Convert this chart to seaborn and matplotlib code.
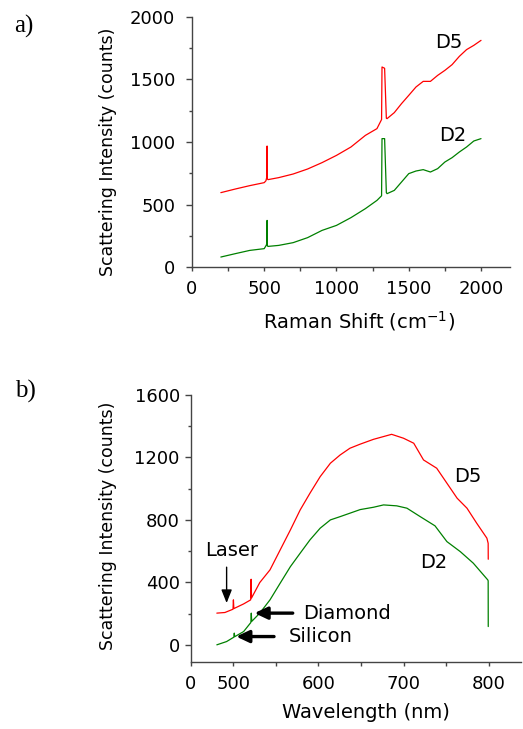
import matplotlib
matplotlib.use("Agg")
import matplotlib.pyplot as plt
from matplotlib.ticker import MultipleLocator, FixedLocator, FixedFormatter
import seaborn as sns
import pandas as pd

# ---------------- data (a) Raman spectra ----------------
raman_shift_d5 = [200, 300, 400, 500, 512, 518, 520, 522, 526, 600, 700, 800, 900, 1000,
                  1100, 1200, 1280, 1312, 1315, 1333, 1345, 1350, 1400, 1450, 1500, 1550,
                  1600, 1650, 1700, 1750, 1800, 1850, 1900, 1950, 2000]
raman_d5 = [595, 624, 651, 675, 690, 720, 968, 705, 699, 715, 744, 784, 835, 893,
            960, 1053, 1107, 1180, 1600, 1590, 1190, 1187, 1235, 1307, 1373, 1440,
            1485, 1485, 1533, 1573, 1619, 1685, 1739, 1773, 1813]

raman_shift_d2 = [200, 300, 400, 500, 512, 518, 520, 522, 526, 600, 700, 800, 900, 1000,
                  1100, 1200, 1280, 1312, 1315, 1333, 1345, 1350, 1400, 1450, 1500, 1550,
                  1600, 1650, 1700, 1750, 1800, 1850, 1900, 1950, 2000]
raman_d2 = [80, 107, 133, 147, 170, 185, 373, 170, 165, 173, 195, 235, 293, 333,
            395, 467, 533, 570, 1027, 1027, 595, 587, 613, 680, 747, 768,
            779, 760, 787, 840, 875, 920, 960, 1008, 1027]

# ---------------- data (b) scattering spectra ----------------
wl_d5 = [480.5, 490, 499.5, 500, 500.5, 512, 520.3, 520.8, 521.3, 531, 543, 555, 567, 578.5,
         590, 602, 614, 625.5, 637, 649, 664.7, 686, 700, 712, 723.5, 739, 751, 763,
         774.6, 786, 798, 799.5, 799.6]
scat_d5 = [203, 207, 228, 288, 232, 262, 288, 420, 300, 399, 480, 608, 736, 864,
           971, 1077, 1163, 1216, 1259, 1285, 1316, 1348, 1323, 1291, 1184, 1131, 1035, 939,
           875, 779, 683, 650, 548]

wl_d2 = [480.5, 492, 500.5, 501, 501.5, 512, 520.5, 521, 521.5, 531, 543, 555, 567, 578.5,
         590, 602, 614, 625.5, 637, 649, 664.7, 676.5, 692, 704, 719.6, 737, 751, 766.7,
         782, 799, 799.5, 799.6]
scat_d2 = [0, 21, 49, 75, 52, 85, 143, 203, 150, 203, 288, 395, 501, 587,
           672, 747, 800, 821, 843, 866, 881, 896, 890, 875, 821, 762, 661, 597,
           523, 416, 410, 117]

raman_ticks = [0, 500, 1000, 1500, 2000]
raman_yticks = [0, 500, 1000, 1500, 2000]
wl_ticks = [450, 500, 600, 700, 800]
wl_ticklabels = ["0", "500", "600", "700", "800"]
scat_yticks = [0, 400, 800, 1200, 1600]

RED = "#ff0000"
GREEN = "#008000"

sns.set_style("ticks")
plt.rcParams["font.family"] = ["DejaVu Sans"]
plt.rcParams["text.color"] = "black"
plt.rcParams["axes.labelcolor"] = "black"

fig = plt.figure(figsize=(5.23, 7.29), dpi=100)
ax1 = fig.add_axes([0.367, 0.6337, 0.608, 0.343])
ax2 = fig.add_axes([0.365, 0.0919, 0.631, 0.3663])

df_a5 = pd.DataFrame({"x": raman_shift_d5, "y": raman_d5})
df_a2 = pd.DataFrame({"x": raman_shift_d2, "y": raman_d2})
df_b5 = pd.DataFrame({"x": wl_d5, "y": scat_d5})
df_b2 = pd.DataFrame({"x": wl_d2, "y": scat_d2})

kw = dict(estimator=None, sort=False, lw=0.9)
sns.lineplot(data=df_a5, x="x", y="y", ax=ax1, color=RED, **kw)
sns.lineplot(data=df_a2, x="x", y="y", ax=ax1, color=GREEN, **kw)
sns.lineplot(data=df_b5, x="x", y="y", ax=ax2, color=RED, **kw)
sns.lineplot(data=df_b2, x="x", y="y", ax=ax2, color=GREEN, **kw)

spine_col = "#444444"
for ax in (ax1, ax2):
    sns.despine(ax=ax)
    for s in ("left", "bottom"):
        ax.spines[s].set_color(spine_col)
        ax.spines[s].set_linewidth(1.0)
    ax.tick_params(which="both", color=spine_col, width=1.0, labelsize=13, labelcolor="black")
    ax.tick_params(axis="y", which="major", length=4)
    ax.tick_params(axis="y", which="minor", length=2.5)
    ax.tick_params(axis="x", which="major", length=3)
    ax.tick_params(axis="x", which="minor", length=3)

# panel a
ax1.set_xlim(0, 2200)
ax1.set_ylim(0, 2000)
ax1.xaxis.set_major_locator(FixedLocator(raman_ticks))
ax1.xaxis.set_minor_locator(MultipleLocator(250))
ax1.yaxis.set_major_locator(FixedLocator(raman_yticks))
ax1.yaxis.set_minor_locator(MultipleLocator(250))
ax1.tick_params(axis="y", pad=8)
ax1.tick_params(axis="x", pad=6)
ax1.set_xlabel("Raman Shift (cm$^{-1}$)", fontsize=14, color="black")
ax1.set_ylabel("Scattering Intensity (counts)", fontsize=12.5, color="black")
ax1.xaxis.set_label_coords(0.525, -0.17)
ax1.yaxis.set_label_coords(-0.236, 0.46)
ax1.text(1775, 1794, "D5", fontsize=14, ha="center", va="center", color="black")
ax1.text(1806, 1056, "D2", fontsize=14, ha="center", va="center", color="black")

# panel b
ax2.set_xlim(450, 838)
ax2.set_ylim(-110, 1600)
ax2.xaxis.set_major_locator(FixedLocator(wl_ticks))
ax2.xaxis.set_major_formatter(FixedFormatter(wl_ticklabels))
ax2.xaxis.set_minor_locator(FixedLocator([550, 650, 750]))
ax2.yaxis.set_major_locator(FixedLocator(scat_yticks))
ax2.yaxis.set_minor_locator(MultipleLocator(200))
ax2.tick_params(axis="y", pad=4)
ax2.tick_params(axis="x", pad=6)
ax2.set_xlabel("Wavelength (nm)", fontsize=14, color="black")
ax2.set_ylabel("Scattering Intensity (counts)", fontsize=12.5, color="black")
ax2.xaxis.set_label_coords(0.53, -0.155)
ax2.yaxis.set_label_coords(-0.224, 0.509)
ax2.text(776, 1077, "D5", fontsize=14, ha="center", va="center", color="black")
ax2.text(736, 527, "D2", fontsize=14, ha="center", va="center", color="black")

ax2.text(498, 602, "Laser", fontsize=14, ha="center", va="center", color="black")
ax2.annotate("", xy=(492, 250), xytext=(492, 515),
             arrowprops=dict(arrowstyle="-|>,head_length=0.5,head_width=0.2", lw=1.0,
                             color="black", mutation_scale=16))
ax2.text(582, 203, "Diamond", fontsize=14, ha="left", va="center", color="black")
ax2.annotate("", xy=(521.5, 203), xytext=(573, 203),
             arrowprops=dict(arrowstyle="-|>,head_length=0.55,head_width=0.26", lw=2.4,
                             color="black", mutation_scale=14))
ax2.text(565, 53, "Silicon", fontsize=14, ha="left", va="center", color="black")
ax2.annotate("", xy=(500, 53), xytext=(551, 53),
             arrowprops=dict(arrowstyle="-|>,head_length=0.55,head_width=0.26", lw=2.4,
                             color="black", mutation_scale=14))

fig.text(24 / 523, 1 - 26 / 729, "a)", fontsize=18, family="Liberation Serif",
         ha="center", va="center", color="black")
fig.text(25 / 523, 1 - 391 / 729, "b)", fontsize=18, family="Liberation Serif",
         ha="center", va="center", color="black")

fig.savefig("out.png", dpi=100)
